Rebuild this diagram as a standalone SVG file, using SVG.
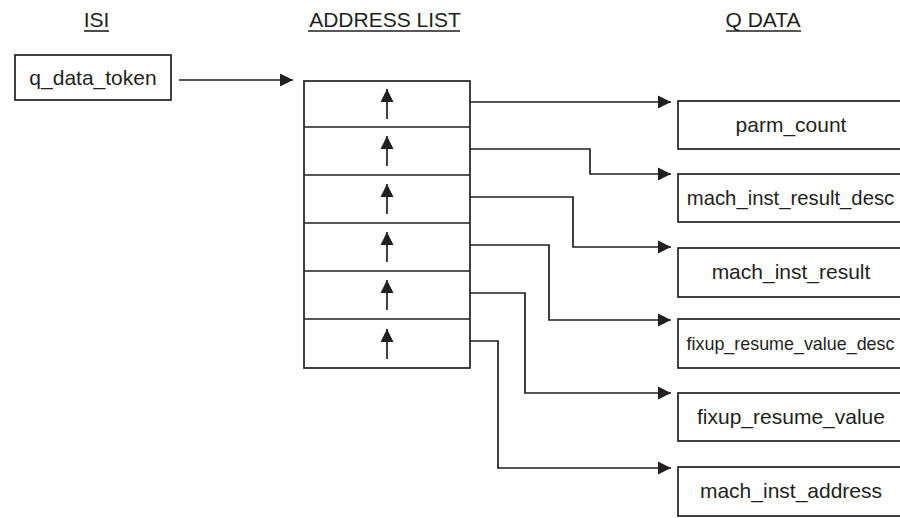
<svg xmlns="http://www.w3.org/2000/svg" width="900" height="518" viewBox="0 0 900 518">
  <style>
    .bg { fill: #ffffff; }
    .box { fill: #ffffff; stroke: #231f20; stroke-width: 1.7; }
    .ln { fill: none; stroke: #231f20; stroke-width: 1.7; }
    .ul { stroke: #231f20; stroke-width: 1.6; }
    .t { font-family: "Liberation Sans", Arial, sans-serif; font-size: 21px; fill: #231f20; }
    .c { text-anchor: middle; }
  </style>
  <defs>
    <marker id="ah" markerWidth="14" markerHeight="14" viewBox="0 0 14 14" refX="13" refY="7" orient="auto" markerUnits="userSpaceOnUse">
      <polygon points="0,0.5 13,7 0,13.5" fill="#231f20"/>
    </marker>
  </defs>
  <rect class="bg" x="0" y="0" width="900" height="518"/>

  <g id="headings">
    <text class="t c" x="96.5" y="27">ISI</text>
    <line class="ul" x1="84" y1="31" x2="109" y2="31"/>
    <text class="t c" x="385" y="27">ADDRESS LIST</text>
    <line class="ul" x1="308" y1="31" x2="460" y2="31"/>
    <text class="t c" x="763" y="27">Q DATA</text>
    <line class="ul" x1="726" y1="31" x2="801" y2="31"/>
  </g>

  <g id="q_data_token">
    <rect class="box" x="15" y="55" width="156" height="45"/>
    <text class="t c" x="93" y="85">q_data_token</text>
  </g>

  <g id="address_list">
    <rect class="box" x="304" y="81" width="166" height="287"/>
    <line class="ln" x1="304" y1="127" x2="470" y2="127"/>
    <line class="ln" x1="304" y1="175" x2="470" y2="175"/>
    <line class="ln" x1="304" y1="223" x2="470" y2="223"/>
    <line class="ln" x1="304" y1="271" x2="470" y2="271"/>
    <line class="ln" x1="304" y1="319" x2="470" y2="319"/>
    <line class="ln" x1="387" y1="119" x2="387" y2="89" marker-end="url(#ah)"/>
    <line class="ln" x1="387" y1="166" x2="387" y2="136" marker-end="url(#ah)"/>
    <line class="ln" x1="387" y1="214" x2="387" y2="184" marker-end="url(#ah)"/>
    <line class="ln" x1="387" y1="262" x2="387" y2="232" marker-end="url(#ah)"/>
    <line class="ln" x1="387" y1="310" x2="387" y2="280" marker-end="url(#ah)"/>
    <line class="ln" x1="387" y1="359" x2="387" y2="329" marker-end="url(#ah)"/>
  </g>

  <g id="parm_count">
    <rect class="box" x="678" y="101" width="230" height="48"/>
    <text class="t c" x="791" y="132">parm_count</text>
  </g>
  <g id="mach_inst_result_desc">
    <rect class="box" x="678" y="174" width="230" height="48"/>
    <text class="t c" x="790.5" y="205" style="font-size:20.3px">mach_inst_result_desc</text>
  </g>
  <g id="mach_inst_result">
    <rect class="box" x="678" y="248" width="230" height="49"/>
    <text class="t c" x="791" y="279">mach_inst_result</text>
  </g>
  <g id="fixup_resume_value_desc">
    <rect class="box" x="678" y="319" width="230" height="49"/>
    <text class="t c" x="790.5" y="350" style="font-size:17.9px">fixup_resume_value_desc</text>
  </g>
  <g id="fixup_resume_value">
    <rect class="box" x="678" y="393" width="230" height="48"/>
    <text class="t c" x="791" y="424">fixup_resume_value</text>
  </g>
  <g id="mach_inst_address">
    <rect class="box" x="678" y="467" width="230" height="49"/>
    <text class="t c" x="791" y="498">mach_inst_address</text>
  </g>

  <g id="connectors">
    <line class="ln" x1="179" y1="80" x2="293" y2="80" marker-end="url(#ah)"/>
    <polyline class="ln" points="470,102 671,102" marker-end="url(#ah)"/>
    <polyline class="ln" points="470,149 590,149 590,174 671,174" marker-end="url(#ah)"/>
    <polyline class="ln" points="470,197 573,197 573,247 671,247" marker-end="url(#ah)"/>
    <polyline class="ln" points="470,245 549,245 549,320 671,320" marker-end="url(#ah)"/>
    <polyline class="ln" points="470,293 525,293 525,393 671,393" marker-end="url(#ah)"/>
    <polyline class="ln" points="470,341 498,341 498,468 671,468" marker-end="url(#ah)"/>
  </g>
</svg>
